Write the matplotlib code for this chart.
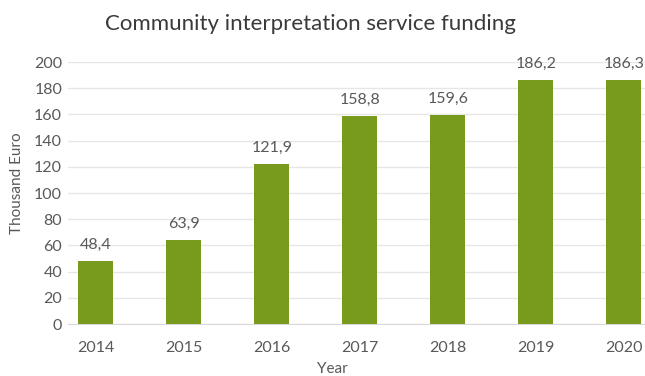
import matplotlib.pyplot as plt
import numpy as np

years = ['2014', '2015', '2016', '2017', '2018', '2019', '2020']
funding = [48.4, 63.9, 121.9, 158.8, 159.6, 186.2, 186.3]

plt.rcParams['font.family'] = ['Lato', 'DejaVu Sans']

fig = plt.figure(figsize=(6.45, 3.76), dpi=100)
ax = fig.add_axes([0.105, 0.138, 0.895, 0.697])

x = np.arange(len(years))
ax.bar(x, funding, width=0.4, color='#789b1e', zorder=3)

# value labels with comma as decimal separator
for xi, v in zip(x, funding):
    ax.text(xi, v + 7, f'{v:.1f}'.replace('.', ','), ha='center', va='bottom',
            fontsize=11.5, color='#595959')

ax.set_ylim(0, 200)
ax.set_xlim(-0.32, 6.24)
ax.set_yticks(range(0, 201, 20))
ax.set_xticks(x)
ax.set_xticklabels(years)
ax.tick_params(axis='both', length=0, labelsize=11.5, labelcolor='#595959')
ax.tick_params(axis='y', pad=4)
ax.tick_params(axis='x', pad=12)
ax.grid(axis='y', color='#e6e6e6', linewidth=1, zorder=0)
for side in ['top', 'right', 'left']:
    ax.spines[side].set_visible(False)
ax.spines['bottom'].set_color('#d9d9d9')

fig.text(0.481, 0.935, 'Community interpretation service funding', ha='center',
         va='center', fontsize=16, color='#3a3a3a')
fig.text(0.027, 0.513, 'Thousand Euro', rotation=90, ha='center', va='center',
         fontsize=11, color='#595959')
fig.text(0.515, 0.018, 'Year', ha='center', va='center', fontsize=11, color='#595959')

fig.savefig('out.png', dpi=100)
